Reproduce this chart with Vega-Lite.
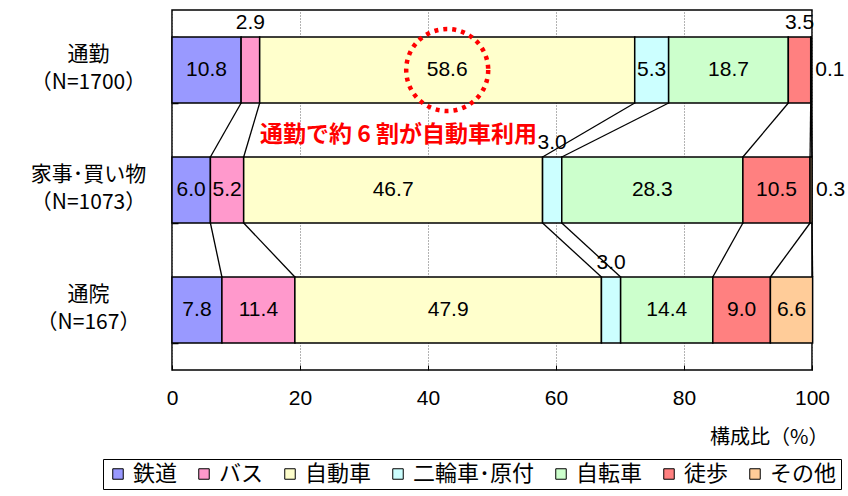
{
  "$schema": "https://vega.github.io/schema/vega-lite/v6.json",
  "width": 640,
  "height": 360,
  "autosize": "none",
  "padding": {"left": 172, "top": 10, "right": 36, "bottom": 126},
  "background": "white",
  "config": {"view": {"stroke": "#000", "strokeWidth": 1.5}, "font": "Noto Sans CJK JP"},
  "data": {"values": [
    {"purpose": "通勤（N=1700）", "mode": "鉄道", "value": 10.8},
    {"purpose": "通勤（N=1700）", "mode": "バス", "value": 2.9},
    {"purpose": "通勤（N=1700）", "mode": "自動車", "value": 58.6},
    {"purpose": "通勤（N=1700）", "mode": "二輪車･原付", "value": 5.3},
    {"purpose": "通勤（N=1700）", "mode": "自転車", "value": 18.7},
    {"purpose": "通勤（N=1700）", "mode": "徒歩", "value": 3.5},
    {"purpose": "通勤（N=1700）", "mode": "その他", "value": 0.1},
    {"purpose": "家事･買い物（N=1073）", "mode": "鉄道", "value": 6.0},
    {"purpose": "家事･買い物（N=1073）", "mode": "バス", "value": 5.2},
    {"purpose": "家事･買い物（N=1073）", "mode": "自動車", "value": 46.7},
    {"purpose": "家事･買い物（N=1073）", "mode": "二輪車･原付", "value": 3.0},
    {"purpose": "家事･買い物（N=1073）", "mode": "自転車", "value": 28.3},
    {"purpose": "家事･買い物（N=1073）", "mode": "徒歩", "value": 10.5},
    {"purpose": "家事･買い物（N=1073）", "mode": "その他", "value": 0.3},
    {"purpose": "通院（N=167）", "mode": "鉄道", "value": 7.8},
    {"purpose": "通院（N=167）", "mode": "バス", "value": 11.4},
    {"purpose": "通院（N=167）", "mode": "自動車", "value": 47.9},
    {"purpose": "通院（N=167）", "mode": "二輪車･原付", "value": 3.0},
    {"purpose": "通院（N=167）", "mode": "自転車", "value": 14.4},
    {"purpose": "通院（N=167）", "mode": "徒歩", "value": 9.0},
    {"purpose": "通院（N=167）", "mode": "その他", "value": 6.6}
  ]},
  "transform": [
    {"calculate": "indexof(['鉄道','バス','自動車','二輪車･原付','自転車','徒歩','その他'], datum.mode)", "as": "k"},
    {"calculate": "indexof(['通勤（N=1700）','家事･買い物（N=1073）','通院（N=167）'], datum.purpose)", "as": "pi"},
    {"stack": "value", "groupby": ["purpose"], "sort": [{"field": "k", "order": "ascending"}], "as": ["v0", "v1"]},
    {"calculate": "(datum.v0 + datum.v1) / 2", "as": "mid"}
  ],
  "encoding": {
    "y": {
      "field": "purpose", "type": "nominal",
      "sort": ["通勤（N=1700）", "家事･買い物（N=1073）", "通院（N=167）"],
      "scale": {"paddingInner": 0.45, "paddingOuter": 0.225},
      "axis": {
        "title": null,
        "labelExpr": "split(replace(datum.label,'（','|（'),'|')",
        "labelFontSize": 21,
        "labelFont": "Noto Sans CJK JP",
        "labelColor": "black",
        "labelAlign": "center",
        "labelBaseline": "middle",
        "labelPadding": 90,
        "labelOffset": -16,
        "labelLineHeight": 28,
        "tickBand": "extent",
        "tickSize": -6,
        "tickColor": "black",
        "tickWidth": 1.5,
        "domain": false
      }
    }
  },
  "layer": [
    {
      "mark": {"type": "bar", "stroke": "black", "strokeWidth": 1.5},
      "encoding": {
        "x": {
          "field": "v0", "type": "quantitative",
          "scale": {"domain": [0, 100], "nice": false},
          "axis": {
            "values": [0, 20, 40, 60, 80, 100],
            "title": "構成比（%）",
            "titleFont": "Noto Sans CJK JP",
            "titleFontSize": 20,
            "titleFontWeight": "normal",
            "titleColor": "black",
            "titleAlign": "right",
            "titleBaseline": "middle",
            "titleX": 656,
            "titleY": 67,
            "labelFont": "Liberation Sans",
            "labelFontSize": 21,
            "labelColor": "black",
            "labelPadding": 22,
            "labelFlush": false,
            "grid": true,
            "gridDash": [1, 2],
            "gridColor": "#666",
            "domain": false,
            "tickSize": -5,
            "tickColor": "black"
          }
        },
        "x2": {"field": "v1"},
        "color": {
          "field": "mode", "type": "nominal",
          "scale": {
            "domain": ["鉄道", "バス", "自動車", "二輪車･原付", "自転車", "徒歩", "その他"],
            "range": ["#9999FF", "#FF99CC", "#FFFFCC", "#CCFFFF", "#CCFFCC", "#FF8080", "#FFCC99"]
          },
          "legend": {
            "orient": "none",
            "legendX": -69,
            "legendY": 449,
            "direction": "horizontal",
            "columns": 7,
            "title": null,
            "symbolType": "square",
            "symbolSize": 110,
            "symbolStrokeColor": "black",
            "symbolStrokeWidth": 1,
            "labelFontSize": 22,
            "labelFont": "Noto Sans CJK JP",
            "labelColor": "black",
            "labelLimit": 300,
            "labelOffset": 4,
            "strokeColor": "black",
            "fillColor": "white",
            "padding": 4,
            "columnPadding": 15
          }
        }
      }
    },
    {
      "transform": [
        {"window": [{"op": "lead", "field": "v1", "as": "nv1"}, {"op": "lead", "field": "purpose", "as": "np"}], "groupby": ["mode"], "sort": [{"field": "pi", "order": "ascending"}]},
        {"filter": "datum.np != null"}
      ],
      "mark": {"type": "rule", "color": "black", "strokeWidth": 1.3, "yOffset": 33, "y2Offset": -33},
      "encoding": {
        "x": {"field": "v1", "type": "quantitative"},
        "x2": {"field": "nv1"},
        "y2": {"field": "np"}
      }
    },
    {
      "transform": [{"filter": "datum.value >= 4"}],
      "mark": {"type": "text", "font": "Liberation Sans", "fontSize": 21, "color": "black", "baseline": "middle"},
      "encoding": {
        "x": {"field": "mid", "type": "quantitative"},
        "text": {"field": "value", "type": "quantitative", "format": ".1f"}
      }
    },
    {
      "transform": [{"filter": "datum.value < 4 && datum.mode != 'その他'"}],
      "mark": {"type": "text", "font": "Liberation Sans", "fontSize": 21, "color": "black", "baseline": "middle", "dy": -47},
      "encoding": {
        "x": {"field": "mid", "type": "quantitative"},
        "text": {"field": "value", "type": "quantitative", "format": ".1f"}
      }
    },
    {
      "transform": [{"filter": "datum.value < 4 && datum.mode == 'その他'"}],
      "mark": {"type": "text", "font": "Liberation Sans", "fontSize": 21, "color": "black", "baseline": "middle", "align": "left", "dx": 4},
      "encoding": {
        "x": {"field": "v1", "type": "quantitative"},
        "text": {"field": "value", "type": "quantitative", "format": ".1f"}
      }
    },
    {
      "data": {"values": [{"note": "通勤で約 6 割が自動車利用"}]},
      "mark": {"type": "text", "font": "Noto Sans CJK JP", "fontSize": 23, "fontWeight": "bold", "color": "#FF0000", "baseline": "middle", "dy": -55},
      "encoding": {
        "x": {"datum": 35.4, "type": "quantitative"},
        "y": {"datum": "家事･買い物（N=1073）"},
        "text": {"field": "note"}
      }
    },
    {
      "data": {"values": [{"note": "58.6"}]},
      "mark": {"type": "point", "shape": "circle", "size": 6724, "filled": false, "stroke": "#FF0000", "strokeWidth": 4.5, "strokeDash": [4, 5], "opacity": 1},
      "encoding": {
        "x": {"datum": 43, "type": "quantitative"},
        "y": {"datum": "通勤（N=1700）"}
      }
    }
  ]
}
